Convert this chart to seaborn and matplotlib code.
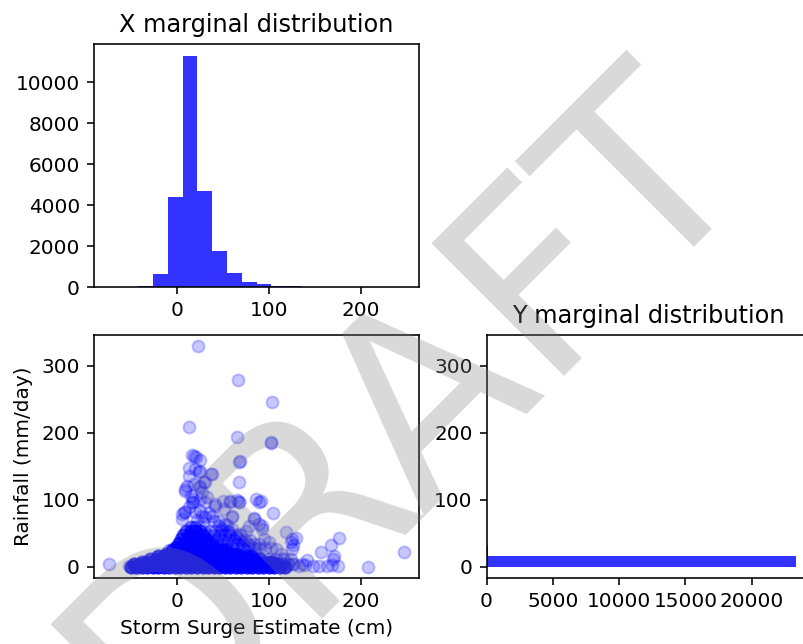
import numpy as np
import pandas as pd
import matplotlib
matplotlib.use("Agg")
import matplotlib.pyplot as plt
import seaborn as sns

# Individual storm events: surge estimate (cm) and rainfall (mm/day)
surge_events = [
    23, 66.4, 103.3, 12.8, 65, 102.2, 103, 68.2, 69, 16.4, 21.2, 18.3, 24.8,
    13.5, 20, 25.5, 36.9, 30.3, 67.5, 11, 9, 15.7, 17.5, 17.2, 50.4, 58.4,
    65.7, 68.2, 85.8, 91.2, 104.7, 8.4, 84, 89.4, 74.8, 129.6, 177, 168, 157,
    247.5, 126, 208, -74, 164, 169, 175, 170, 171.4, 155, 140, 133, 147.7,
    142, 136.8, 29.2, 27.4, 32.8, 23.7, 25.6, 31.1, 40.2, 45.6, 49.2, 42, 51,
    60, 56.6, 63.9, 71.1, 78.4, 85.8, 5.5, 12.8, 16.4, 124, 125.8, 116.7, 113,
    107.7, 100, 94.9, 93, 78.4, -52, -42, -20, -9, 0, 12.8, 23.7, 38.3, 9.2,
    18.3, 25.6, 25.6, 31, 42, 58.4, 67.5, 60.2, 83.9, 89.4, 93, 118.6, 125.8,
    38.3, 45.6, 52.9, 60.2, 67.5, 9.2, 5.5, 20.1, 27.4, 35, 22, 28, 55, 48,
]
rain_events = [
    329, 278.7, 245.7, 208.2, 193.4, 184, 186, 156.4, 157.5, 166, 164, 165, 160,
    148, 145.5, 143, 138, 125.8, 126.8, 121, 113.5, 106, 97, 101, 98.7, 97,
    99, 97, 101, 97.5, 80, 81.4, 72.5, 64, 54, 43, 43, 32, 22,
    23, 32, 0, 4, 1, 3, 1, 12, 17, 2, 3, 2, 2,
    10, 5, 126, 111, 103.7, 121, 83.9, 74, 69, 61.6, 56.7, 91, 86,
    74, 51.8, 44.4, 37, 32, 27, 79, 89, 96, 37, 27, 12, 19.7,
    27, 37, 42, 56.7, 61.6, 1, 0, 17, 24.6, 27, 135.7, 140.7, 138, 116,
    123.4, 118.5, 101, 96, 93.8, 98.7, 96.3, 76.4, 71.6, 96.3, 61.6, 51.8, 42,
    76.4, 69, 64, 56.7, 49.3, 81.5, 71.6, 81.5, 76.4, 80, 70, 66, 62, 48,
]

# Dense low-rainfall cluster: each rainfall level lists the surge values
# observed on it and how many events share each of those values
cluster_rain_levels = [0, 4, 8, 12, 16, 20, 25, 30, 36, 42, 48, 54, 60,
                       28, 34, 40, 47, 54, 12, 4]
cluster_surge_rows = [
    [-50, -44, -38, -32, -26, -20, -14, -8, -2, 4, 10, 16, 22, 28, 34, 40, 46,
     52, 58, 64, 70, 76, 82, 88, 94, 100, 106, 112, 118],
    [-47, -41, -35, -29, -23, -17, -11, -5, 1, 7, 13, 19, 25, 31, 37, 43, 49,
     55, 61, 67, 73, 79, 85, 91, 97, 103, 109],
    [-38, -32, -26, -20, -14, -8, -2, 4, 10, 16, 22, 28, 34, 40, 46, 52, 58,
     64, 70, 76, 82, 88, 94, 100, 104],
    [-29, -23, -17, -11, -5, 1, 7, 13, 19, 25, 31, 37, 43, 49, 55, 61, 67, 73,
     79, 85, 91],
    [-20, -14, -8, -2, 4, 10, 16, 22, 28, 34, 40, 46, 52, 58, 64, 70, 76, 82],
    [-12, -6, 0, 6, 12, 18, 24, 30, 36, 42, 48, 54, 60, 64],
    [-5, 1, 7, 13, 19, 25, 31, 37, 43, 49, 52],
    [-1, 5, 11, 17, 23, 29, 35, 41],
    [2, 8, 14, 20, 26, 32, 36],
    [5, 11, 17, 23, 29, 32],
    [7, 13, 19, 25, 29],
    [10, 15, 20, 25],
    [15, 20],
    [48, 54, 60, 66, 72, 78, 84, 90, 96, 102],
    [42, 48, 54, 60, 66, 72, 78, 84, 90],
    [38, 44, 50, 56, 62, 68, 74, 80],
    [34, 40, 46, 52, 58, 64, 70],
    [30, 36, 42, 48, 56],
    [100, 108, 116, 124],
    [115, 121, 127],
]
cluster_counts = [6, 5, 4, 4, 4, 4, 4, 4, 4, 3, 3, 3, 2,
                  1, 1, 1, 1, 1, 1, 2]

# Event counts in 20 equal-width bins across each variable's range
surge_bin_counts = [3, 10, 80, 635, 4400, 11300, 4675, 1775, 717, 277,
                    147, 80, 75, 20, 10, 8, 0, 2, 0, 1]
rain_bin_counts = [23300, 150, 60, 30, 15, 10, 8, 5, 4, 3,
                   2, 2, 1, 1, 0, 0, 1, 1, 0, 1]

# Assemble the scatter data
surge_all = list(surge_events)
rain_all = list(rain_events)
for level, row, n in zip(cluster_rain_levels, cluster_surge_rows, cluster_counts):
    for s in row:
        surge_all += [s] * n
        rain_all += [level] * n
df = pd.DataFrame({"surge": surge_all, "rain": rain_all})

surge_edges = np.linspace(df["surge"].min(), df["surge"].max(), 21)
rain_edges = np.linspace(df["rain"].min(), df["rain"].max(), 21)
surge_hist = pd.DataFrame({
    "center": (surge_edges[:-1] + surge_edges[1:]) / 2,
    "count": surge_bin_counts,
})
rain_hist = pd.DataFrame({
    "center": (rain_edges[:-1] + rain_edges[1:]) / 2,
    "count": rain_bin_counts,
})

W, H = 803, 644
fig = plt.figure(figsize=(W / 144, H / 144), dpi=144)
ax_top = fig.add_axes([94 / W, 1 - 287.3 / H, 325 / W, 243.3 / H])
ax_sc = fig.add_axes([94 / W, 1 - 578 / H, 325 / W, 243 / H])
ax_right = fig.add_axes([486.5 / W, 1 - 578 / H, 324.5 / W, 243 / H])

# X marginal histogram
sns.histplot(data=surge_hist, x="center", weights="count",
             bins=list(surge_edges), color="blue", alpha=0.8, linewidth=0,
             ax=ax_top)
ax_top.set_title("X marginal distribution")
ax_top.set_xlabel("")
ax_top.set_ylabel("")

# Joint scatter
sns.scatterplot(data=df, x="surge", y="rain", color="blue", alpha=0.22, s=36,
                edgecolor="blue", linewidth=1.0, ax=ax_sc)
ax_sc.set_xlabel("Storm Surge Estimate (cm)")
ax_sc.set_ylabel("Rainfall (mm/day)")

# Y marginal histogram (horizontal)
sns.histplot(data=rain_hist, y="center", weights="count",
             bins=list(rain_edges), color="blue", alpha=0.8, linewidth=0,
             ax=ax_right)
ax_right.set_title("Y marginal distribution")
ax_right.set_xlabel("")
ax_right.set_ylabel("")
ax_right.set_ylim(ax_sc.get_ylim())

# Watermark
fig.text(0.5044, 0.3634, "DRAFT", fontsize=128, color="gray", alpha=0.3,
         rotation=45, ha="center", va="center")

fig.savefig("out.png", dpi=144)
